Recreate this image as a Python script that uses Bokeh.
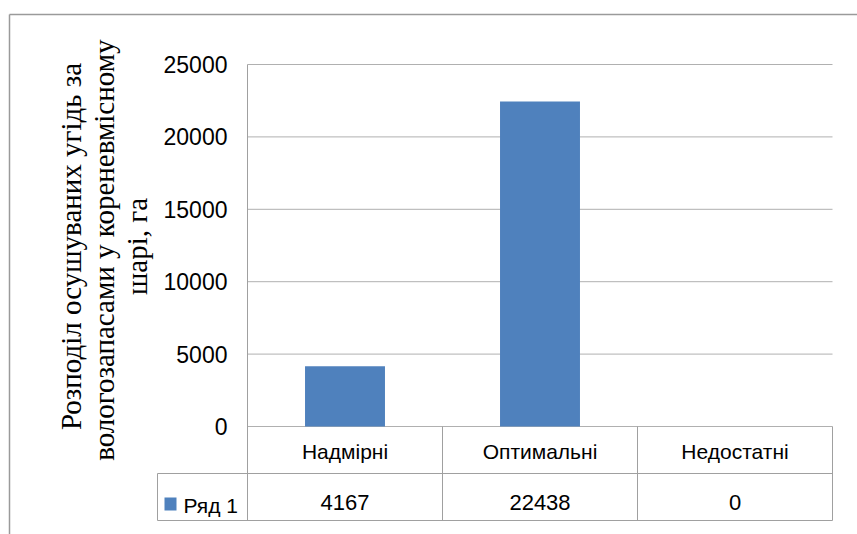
import math
from bokeh.plotting import figure
from bokeh.models import LinearAxis, FixedTicker, Range1d, Grid
from bokeh.core.properties import value
from bokeh.embed import file_html
from bokeh.resources import INLINE

# ---- data ----
categories = ["Надмірні", "Оптимальні", "Недостатні"]
series_name = "Ряд 1"
values = [4167, 22438, 0]
y_ticks = [0, 5000, 10000, 15000, 20000, 25000]
y_title_lines = ["Розподіл осушуваних угідь за",
                 "вологозапасами  у кореневмісному",
                 "шарі, га"]

# ---- layout (canvas px) ----
W, H = 857, 534
PL, PR = 247, 832       # plot area left / right
PT, P0 = 64, 426        # y of top tick (25000) and of zero
ROW1, ROW2 = 473, 520   # bottoms of the two table rows
LEGL = 157              # left edge of legend cell
Y_MAX = y_ticks[-1]
BAR_COLOR = "#4F81BD"
LINE_COLOR = "#a0a0a0"
SANS = "Liberation Sans"

n = len(categories)
xu = n / (PR - PL)
yu = Y_MAX / (P0 - PT)


def dx(px):
    return (px - PL) * xu


def dy(py):
    return (P0 - py) * yu


p = figure(width=W, height=H,
           x_range=Range1d(dx(0), dx(W)), y_range=Range1d(dy(H), dy(0)),
           min_border=0, x_axis_location=None, y_axis_location=None,
           toolbar_location=None, output_backend="svg",
           outline_line_color=None)
p.center = [r for r in p.center if not isinstance(r, Grid)]

# outer chart border (top + left visible)
p.segment(x0=[dx(9), dx(9)], y0=[dy(14), dy(14)], x1=[dx(W), dx(9)], y1=[dy(14), dy(H)],
          line_color="#9a9a9a", line_width=1.5)

# gridlines
p.segment(x0=0, x1=n, y0=y_ticks, y1=y_ticks, line_color="#b0b0b0", line_width=1)

# bars
xs = [i + 0.5 for i in range(n)]
p.vbar(x=xs, top=values, bottom=0, width=0.41, fill_color=BAR_COLOR, line_color=None)

# y axis
yaxis = LinearAxis(fixed_location=0, ticker=FixedTicker(ticks=y_ticks),
                   bounds=(dy(ROW2), Y_MAX),
                   axis_line_color=LINE_COLOR, axis_line_width=1,
                   major_tick_out=0, major_tick_in=0,
                   minor_tick_out=0, minor_tick_in=0,
                   major_label_standoff=20,
                   major_label_text_font=SANS,
                   major_label_text_font_size="23px",
                   major_label_text_color="black")
p.add_layout(yaxis, "left")

# data table lines
p.segment(x0=[1, 2, 3], x1=[1, 2, 3], y0=dy(ROW2), y1=0, line_color=LINE_COLOR)
p.segment(x0=dx(LEGL), x1=n, y0=[dy(ROW1), dy(ROW2)], y1=[dy(ROW1), dy(ROW2)],
          line_color=LINE_COLOR)
p.segment(x0=dx(LEGL), x1=dx(LEGL), y0=dy(ROW1), y1=dy(ROW2), line_color=LINE_COLOR)

# table texts
p.text(x=xs, y=dy(450.5), text=categories, text_font=value(SANS),
       text_font_size="21px", text_align="center", text_baseline="middle",
       text_color="black")
p.text(x=xs, y=dy(502), text=[str(v) for v in values], text_font=value(SANS),
       text_font_size="22px", text_align="center", text_baseline="middle",
       text_color="black")

# legend key
p.rect(x=dx(170), y=dy(503.5), width=12, height=13, width_units="screen",
       height_units="screen", fill_color=BAR_COLOR, line_color=None)
p.text(x=dx(183), y=[dy(504.5)], text=[series_name], text_font=value(SANS),
       text_font_size="21px", text_align="left", text_baseline="middle",
       text_color="black")

# y-axis title (3 rotated lines)
p.text(x=[dx(70), dx(103), dx(136)], y=dy(246), text=y_title_lines,
       text_font=value("Liberation Serif"), text_font_size="29px",
       text_align="center", text_baseline="alphabetic", angle=math.pi / 2,
       text_color="black")

open("out.html", "w").write(file_html(p, INLINE))
